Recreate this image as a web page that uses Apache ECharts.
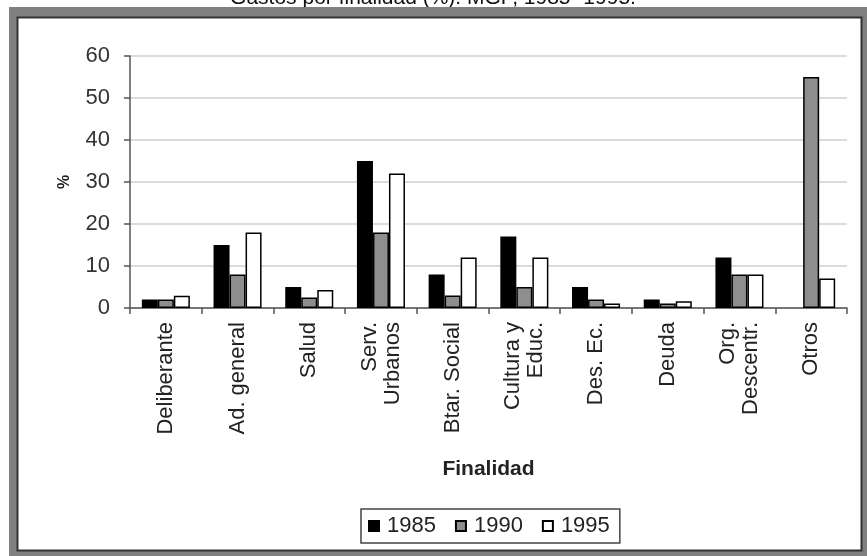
<!DOCTYPE html>
<html>
<head>
<meta charset="utf-8">
<script src="https://cdn.jsdelivr.net/npm/echarts@6/dist/echarts.min.js"></script>
<style>html,body{margin:0;padding:0;background:#fff;}#c{width:867px;height:556px;}</style>
</head>
<body>
<div id="c"></div>
<script>
const categories = ['Deliberante', 'Ad. general', 'Salud', 'Serv.\nUrbanos', 'Btar. Social', 'Cultura y\nEduc.', 'Des. Ec.', 'Deuda', 'Org.\nDescentr.', 'Otros'];
const s1985 = [2, 15, 5, 35, 8, 17, 5, 2, 12, null];
const s1990 = [2, 8, 2.5, 18, 3, 5, 2, 1.1, 8, 55];
const s1995 = [2.9, 18, 4.3, 32, 12, 12, 1.1, 1.6, 8, 7];
const yTicks = [0, 10, 20, 30, 40, 50, 60];
const titleText = 'Gastos por finalidad (%). MGP, 1985- 1995.';

const FONT = '"Liberation Sans", Arial, sans-serif';
const chart = echarts.init(document.getElementById('c'));
const barStyle = (fill) => ({ color: fill, borderColor: '#000', borderWidth: 1.5 });
chart.setOption({
  animation: false,
  backgroundColor: '#fff',
  graphic: [
    { type: 'text', z: -10, style: { text: titleText, x: 433, y: 9, align: 'center', verticalAlign: 'bottom', font: '21px ' + FONT, fill: '#111' } },
    { type: 'rect', z: -9, shape: { x: 9, y: 7, width: 858, height: 549 }, style: { fill: '#808080' } },
    { type: 'rect', z: -8, shape: { x: 17.5, y: 17.5, width: 844, height: 533 }, style: { fill: '#fff', stroke: '#333', lineWidth: 2 } }
  ],
  grid: { left: 130, right: 20, top: 56, bottom: 248, containLabel: false },
  legend: {
    data: ['1985', '1990', '1995'],
    left: 361, top: 509,
    padding: [6, 10, 6, 7],
    itemGap: 19,
    itemWidth: 10, itemHeight: 10,
    borderColor: '#444', borderWidth: 1.5,
    icon: 'rect',
    textStyle: { fontFamily: FONT, fontSize: 22, color: '#222', padding: [0, 0, 0, 3] }
  },
  xAxis: {
    type: 'category',
    data: categories,
    name: 'Finalidad',
    nameLocation: 'middle',
    nameGap: 151,
    nameTextStyle: { fontFamily: FONT, fontSize: 21, fontWeight: 'bold', color: '#222' },
    axisLine: { lineStyle: { color: '#555', width: 1.5 } },
    axisTick: { show: true, length: 6, interval: 0, lineStyle: { color: '#555', width: 1.5 } },
    axisLabel: { interval: 0, rotate: 90, margin: 14, fontFamily: FONT, fontSize: 22, color: '#222', lineHeight: 23 }
  },
  yAxis: {
    type: 'value',
    min: 0, max: 60, interval: 10,
    name: '%',
    nameLocation: 'middle',
    nameGap: 57,
    nameTextStyle: { fontFamily: FONT, fontSize: 16, fontWeight: 'bold', color: '#222' },
    axisLine: { show: true, lineStyle: { color: '#555', width: 1.5 } },
    axisTick: { show: true, length: 6, lineStyle: { color: '#555', width: 1.5 } },
    axisLabel: { margin: 20, fontFamily: FONT, fontSize: 22, color: '#333',
      formatter: (v) => yTicks.includes(v) ? String(v) : '' },
    splitLine: { lineStyle: { color: '#cfcfcf', width: 1.5 } }
  },
  series: [
    { name: '1985', type: 'bar', data: s1985, barGap: '0%', barCategoryGap: '33%', itemStyle: barStyle('#000') },
    { name: '1990', type: 'bar', data: s1990, itemStyle: barStyle('#8e8e8e') },
    { name: '1995', type: 'bar', data: s1995, itemStyle: barStyle('#fff') }
  ]
});
</script>
</body>
</html>
